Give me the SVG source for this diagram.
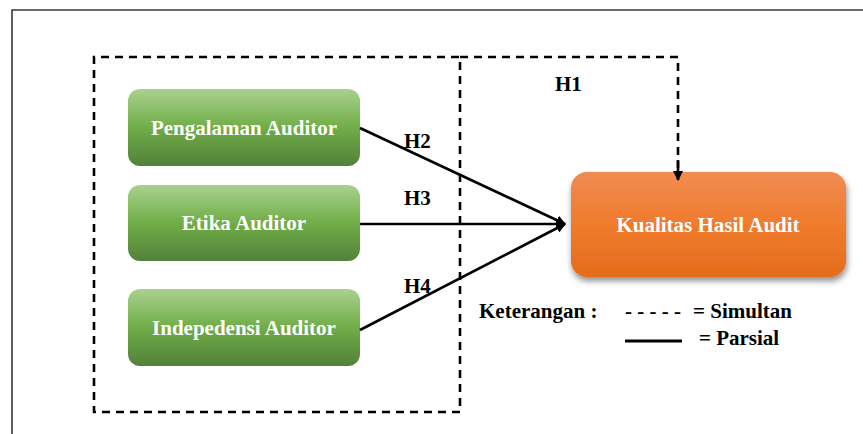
<svg xmlns="http://www.w3.org/2000/svg" width="863" height="434" viewBox="0 0 863 434">
<style>
.frame{fill:none;stroke:#3a3a3a;stroke-width:1.6}
.dash{fill:none;stroke:#000;stroke-width:2.6;stroke-dasharray:8 6}
.solid{fill:none;stroke:#000;stroke-width:2.6}
.lbl{font-family:"Liberation Serif","Times New Roman",serif;font-weight:bold;font-size:21px;fill:#000}
.ntxt{font-family:"Liberation Serif","Times New Roman",serif;font-weight:bold;font-size:21px;fill:#fff;text-anchor:middle}
.green{fill:url(#gGreen)}
.orange{fill:url(#gOrange)}
</style>
<defs>
<linearGradient id="gGreen" x1="0" y1="0" x2="0" y2="1">
<stop offset="0" stop-color="#a9d18e"/>
<stop offset="0.5" stop-color="#70ad47"/>
<stop offset="1" stop-color="#52813a"/>
</linearGradient>
<linearGradient id="gOrange" x1="0" y1="0" x2="0" y2="1">
<stop offset="0" stop-color="#f08c52"/>
<stop offset="0.5" stop-color="#f07b2c"/>
<stop offset="1" stop-color="#e36d1c"/>
</linearGradient>
<filter id="sh" x="-10%" y="-10%" width="130%" height="140%">
<feGaussianBlur in="SourceAlpha" stdDeviation="3"/>
<feOffset dx="1" dy="4" result="b"/>
<feComponentTransfer><feFuncA type="linear" slope="0.45"/></feComponentTransfer>
<feMerge><feMergeNode/><feMergeNode in="SourceGraphic"/></feMerge>
</filter>
<marker id="ah" markerWidth="10" markerHeight="10" refX="9" refY="5" orient="auto" markerUnits="userSpaceOnUse">
<path d="M0,0 L10,5 L0,10 Z" fill="#000"/>
</marker>
</defs>
<rect width="863" height="434" fill="#fff"/>
<path class="frame" d="M12,434 V10 H863"/>
<g id="dashed-boxes">
<path class="dash" d="M460,412 H94 V57 H460 Z"/>
<path class="dash" d="M460,57 H678 V168"/>
</g>
<g id="n-pengalaman">
<rect class="green" x="128" y="89" width="232" height="77" rx="12"/>
<text class="ntxt" x="244" y="135">Pengalaman Auditor</text>
</g>
<g id="n-etika">
<rect class="green" x="128" y="185" width="232" height="76" rx="12"/>
<text class="ntxt" x="244" y="230">Etika Auditor</text>
</g>
<g id="n-indepedensi">
<rect class="green" x="128" y="289" width="232" height="77" rx="12"/>
<text class="ntxt" x="244" y="335">Indepedensi Auditor</text>
</g>
<g id="n-kualitas">
<rect class="orange" x="571" y="172" width="275" height="105" rx="16" filter="url(#sh)"/>
<text class="ntxt" x="708" y="232">Kualitas Hasil Audit</text>
</g>
<g id="connectors">
<line class="solid" x1="360" y1="128" x2="565" y2="224" marker-end="url(#ah)"/>
<line class="solid" x1="360" y1="224" x2="565" y2="224" marker-end="url(#ah)"/>
<line class="solid" x1="360" y1="330" x2="565" y2="224" marker-end="url(#ah)"/>
<line class="solid" x1="678" y1="160" x2="678" y2="180" marker-end="url(#ah)"/>
</g>
<g id="labels">
<text class="lbl" x="555" y="91">H1</text>
<text class="lbl" x="404" y="148">H2</text>
<text class="lbl" x="404" y="205">H3</text>
<text class="lbl" x="404" y="293">H4</text>
</g>
<g id="legend">
<text class="lbl" x="479" y="318">Keterangan :</text>
<text class="lbl" x="625" y="318">- - - - -</text>
<text class="lbl" x="693" y="318">= Simultan</text>
<line x1="625" y1="341" x2="682" y2="341" stroke="#000" stroke-width="3"/>
<text class="lbl" x="699" y="345">= Parsial</text>
</g>
</svg>
